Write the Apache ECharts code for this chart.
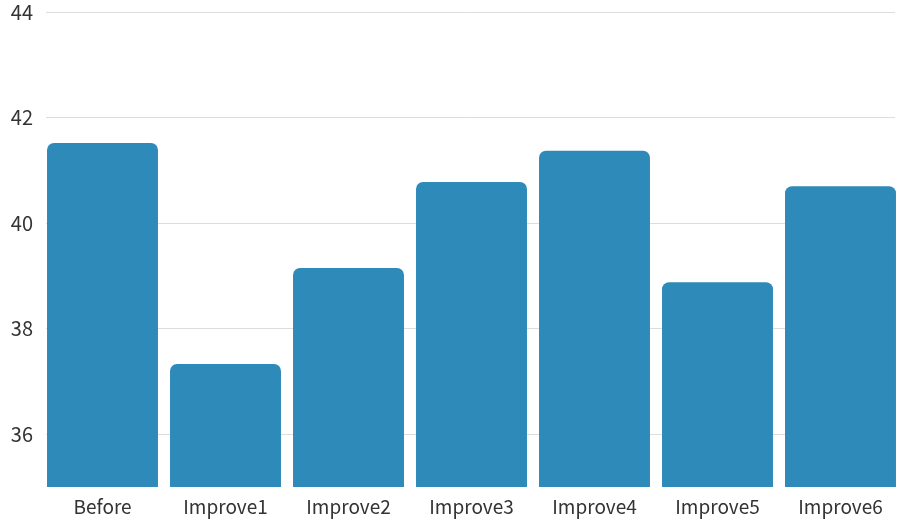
<!DOCTYPE html>
<html><head><meta charset="utf-8">
<script src="https://cdn.jsdelivr.net/npm/echarts@6/dist/echarts.min.js"></script>
<style>html,body{margin:0;padding:0;background:#fff}#c{width:905px;height:524px}</style>
</head><body><div id="c"></div>
<script>
const categories = ['Before','Improve1','Improve2','Improve3','Improve4','Improve5','Improve6'];
const values = [41.52, 37.33, 39.15, 40.78, 41.37, 38.88, 40.70];
const yTicks = [36, 38, 40, 42, 44];
const chart = echarts.init(document.getElementById('c'));
const font = '"Noto Sans CJK KR", "Noto Sans", sans-serif';
chart.setOption({
  animation: false,
  grid: [
    {left: 41, right: 3, top: 12, height: 475},
    {left: 46, right: 10, top: 12, height: 475}
  ],
  xAxis: [{
    type: 'category', data: categories, gridIndex: 0,
    axisLine: {show: false}, axisTick: {show: false},
    axisLabel: {fontFamily: font, fontSize: 19, color: '#333', margin: 10}
  }, {
    type: 'value', gridIndex: 1, show: false
  }],
  yAxis: [{
    type: 'value', gridIndex: 0, min: 35, max: 44, show: false
  }, {
    type: 'value', gridIndex: 1, min: 35, max: 44, interval: 1,
    axisLabel: {fontFamily: font, fontSize: 20, color: '#333', margin: 13,
      formatter: v => yTicks.includes(v) ? String(v) : ''},
    splitLine: {lineStyle: {color: ['rgba(0,0,0,0)', '#dddddd']}},
    axisLine: {show: false}, axisTick: {show: false}
  }],
  series: [{
    type: 'bar', data: values, barCategoryGap: '9.8%', xAxisIndex: 0, yAxisIndex: 0,
    itemStyle: {color: '#2E8AB8', borderRadius: [7, 7, 0, 0]}
  }]
});
</script></body></html>
